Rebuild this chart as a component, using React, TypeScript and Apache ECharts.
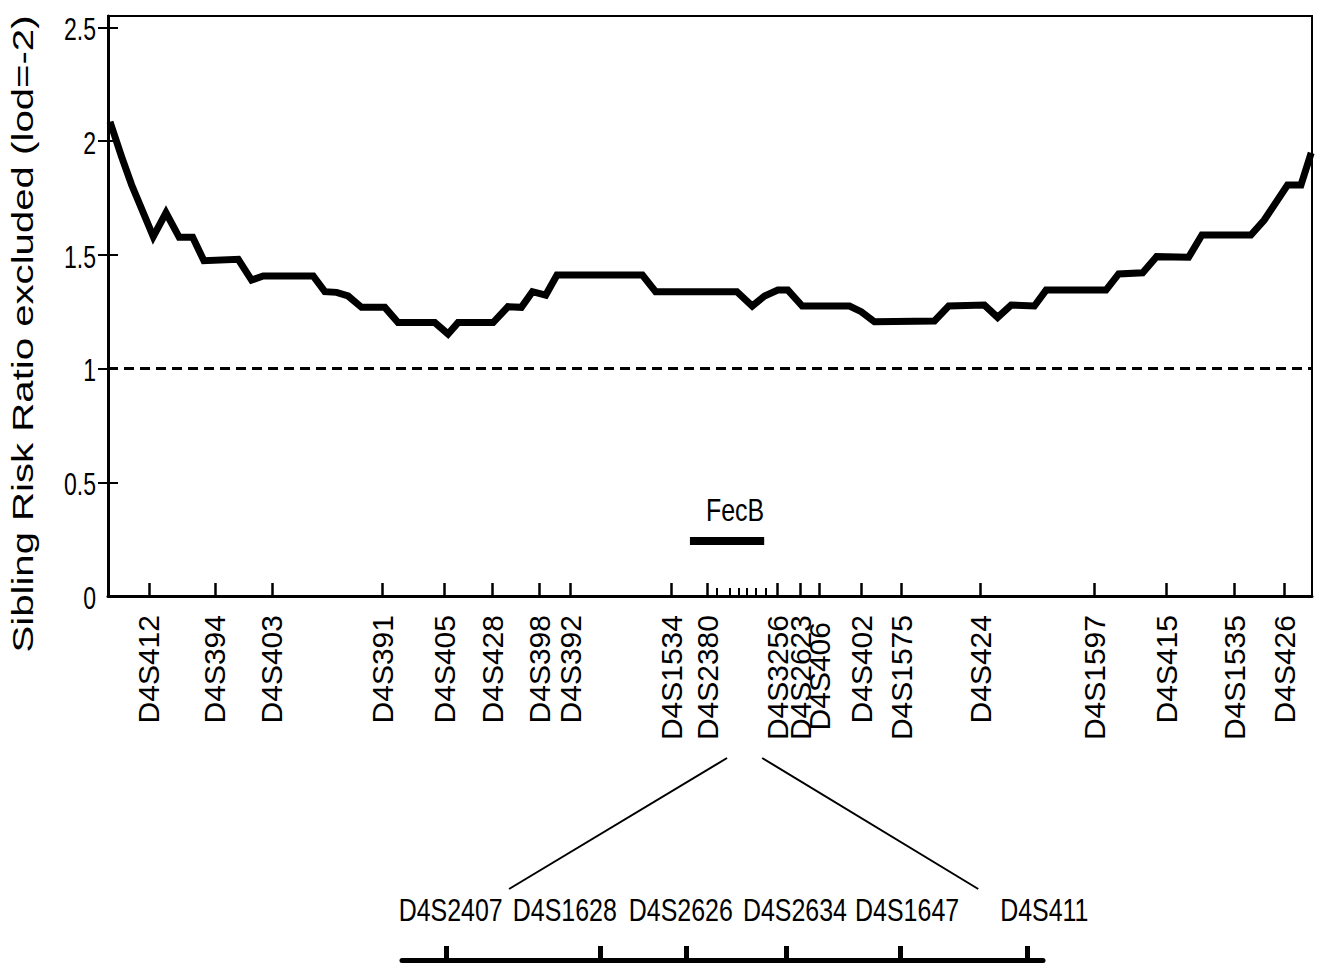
import React, { useEffect, useRef } from "react";
import * as echarts from "echarts";

// Chromosome 4 markers (map position, arbitrary units along the axis)
const markerNames = [
  "D4S412", "D4S394", "D4S403", "D4S391", "D4S405", "D4S428", "D4S398", "D4S392",
  "D4S1534", "D4S2380", "D4S3256", "D4S2623", "D4S406", "D4S402", "D4S1575", "D4S424",
  "D4S1597", "D4S415", "D4S1535", "D4S426",
];
const markerPos = [
  4.08, 10.66, 16.33, 27.38, 33.56, 38.34, 43.02, 46.11,
  56.17, 59.75, 66.72, 69.01, 70.9, 75.08, 79.07, 86.93,
  98.29, 105.46, 112.23, 117.21,
];
// fine-map markers as small ticks on the main axis
const fineTickPosMain = [60.7, 62.0, 62.9, 63.7, 64.6, 65.6];

// Sibling risk ratio excluded curve
const curvePos = [
  0.2, 1.36, 2.36, 4.51, 5.78, 7.1, 8.44, 9.56, 12.98, 14.31, 15.47, 20.45, 21.61, 22.78,
  23.93, 25.27, 27.59, 28.91, 32.57, 33.89, 34.89, 38.38, 39.87, 41.2, 42.3, 43.63, 44.75,
  53.26, 54.58, 62.68, 64.21, 65.44, 66.76, 67.76, 69.19, 73.9, 75.07, 76.39, 82.37, 83.79,
  87.35, 88.67, 90.01, 92.33, 93.5, 99.47, 100.73, 103.12, 104.51, 107.7, 109.03, 113.91,
  115.24, 117.56, 118.9, 119.92,
];
const curveRatio = [
  2.085, 1.931, 1.807, 1.58, 1.685, 1.577, 1.577, 1.474, 1.48, 1.389, 1.407, 1.407, 1.338, 1.335,
  1.319, 1.269, 1.269, 1.202, 1.202, 1.152, 1.202, 1.202, 1.272, 1.269, 1.338, 1.323, 1.411,
  1.411, 1.338, 1.338, 1.275, 1.319, 1.345, 1.345, 1.275, 1.275, 1.25, 1.206, 1.209, 1.275,
  1.279, 1.225, 1.279, 1.275, 1.345, 1.345, 1.416, 1.421, 1.492, 1.489, 1.587, 1.587,
  1.653, 1.807, 1.807, 1.948,
];

const yTicks = [0, 0.5, 1, 1.5, 2, 2.5];
const yTickLabels = ["0", "0.5", "1", "1.5", "2", "2.5"];
const yTicksRight = [0.5, 1, 1.5, 2, 2.5];
const thresholdPos = [0, 120];
const thresholdVal = [1, 1];

const fecbPos = [58.0, 65.4];
const fecbVal = 0.242;
const fecbLabelAt = [62.5, 0.378];

// Fine map (inset)
const fineNames = ["D4S2407", "D4S1628", "D4S2626", "D4S2634", "D4S1647", "D4S411"];
const fineTickPos = [6.9, 30.9, 44.3, 59.9, 77.7, 97.5];
const fineLabelPos = [7.6, 25.4, 43.5, 61.3, 78.8, 100.2];
const fineLabelLevel = 0.625;
const zoomSpanMain = [61.7, 65.2];
const zoomSpanFine = [16.7, 89.9];

const SANS = "'Liberation Sans', Arial, Helvetica, sans-serif";

function nearestName(names: string[], pos: number[], v: number) {
  let best = 0;
  for (let i = 1; i < pos.length; i++) {
    if (Math.abs(pos[i] - v) < Math.abs(pos[best] - v)) best = i;
  }
  return names[best];
}

export default function App() {
  const ref = useRef<HTMLDivElement>(null);

  useEffect(() => {
    if (!ref.current) return;
    const chart = echarts.init(ref.current, null, { renderer: "svg" });
    const option: any = {
      animation: false,
      backgroundColor: "#ffffff",
      grid: [
        {
          left: 108, right: 7, top: 16, bottom: 368,
          show: true, borderColor: "#000", borderWidth: 2,
          outerBoundsMode: "none",
        },
        { left: 402, right: 276, top: 880, bottom: 4, outerBoundsMode: "none" },
      ],
      xAxis: [
        {
          gridIndex: 0, type: "value", min: 0, max: 120, position: "bottom",
          axisLine: { show: true, onZero: false, lineStyle: { color: "#000", width: 3 } },
          axisTick: { show: true, inside: true, length: 13, customValues: markerPos, lineStyle: { color: "#000", width: 2.5 } },
          axisLabel: {
            show: true, customValues: markerPos, rotate: 90, margin: 19,
            showMinLabel: true, showMaxLabel: true,
            fontSize: 30, fontFamily: SANS, color: "#000",
            formatter: (v: number) => {
              const n = nearestName(markerNames, markerPos, v);
              return n === "D4S406" ? "{s|" + n + "}" : n;
            },
            rich: { s: { padding: [0, 7, 0, 0], fontSize: 30, fontFamily: SANS, color: "#000" } },
          },
          splitLine: { show: false },
        },
        {
          gridIndex: 0, type: "value", min: 0, max: 120, position: "bottom",
          axisLine: { show: false, onZero: false },
          axisTick: { show: true, inside: true, length: 8, customValues: fineTickPosMain, lineStyle: { color: "#000", width: 2 } },
          axisLabel: { show: false },
          splitLine: { show: false },
        },
        {
          gridIndex: 1, type: "value", min: 0, max: 100, position: "bottom",
          axisLine: { show: true, onZero: false, lineStyle: { color: "#000", width: 5 } },
          axisTick: { show: true, inside: true, length: 14, customValues: fineTickPos, lineStyle: { color: "#000", width: 5 } },
          axisLabel: { show: false },
          splitLine: { show: false },
        },
      ],
      yAxis: [
        {
          gridIndex: 0, type: "value", min: 0, max: 2.55, position: "left",
          axisLine: { show: true, lineStyle: { color: "#000", width: 3 } },
          axisTick: { show: true, inside: true, length: 10, customValues: yTicks, lineStyle: { color: "#000", width: 2 } },
          axisLabel: { show: false },
          splitLine: { show: false },
        },
        {
          gridIndex: 0, type: "value", min: 0, max: 2.55, position: "right",
          axisLine: { show: true, lineStyle: { color: "#000", width: 2 } },
          axisTick: { show: true, inside: true, length: 10, customValues: yTicksRight, lineStyle: { color: "#000", width: 2 } },
          axisLabel: { show: false },
          splitLine: { show: false },
        },
        { gridIndex: 1, type: "value", min: 0, max: 1, show: false },
      ],
      series: [
        {
          name: "ratio", type: "line", xAxisIndex: 0, yAxisIndex: 0, silent: true,
          data: curvePos.map((x, i) => [x, curveRatio[i]]),
          showSymbol: false, symbol: "none",
          lineStyle: { color: "#000", width: 7, join: "miter" },
        },
        {
          name: "threshold", type: "line", xAxisIndex: 0, yAxisIndex: 0, silent: true,
          data: thresholdPos.map((x, i) => [x, thresholdVal[i]]),
          showSymbol: false, symbol: "none",
          lineStyle: { color: "#000", width: 3, type: [10, 6] },
        },
        {
          name: "FecB", type: "line", xAxisIndex: 0, yAxisIndex: 0, silent: true,
          data: fecbPos.map((x) => [x, fecbVal]),
          showSymbol: false, symbol: "none",
          lineStyle: { color: "#000", width: 8, cap: "butt" },
        },
        {
          // y tick labels (condensed face, as in the original)
          name: "yLabels", type: "custom", xAxisIndex: 0, yAxisIndex: 0, silent: true, clip: false,
          data: yTicks.map((v, i) => [0, v, i]),
          renderItem: (params: any, api: any) => {
            const pt = api.coord([api.value(0), api.value(1)]);
            return {
              type: "text", x: pt[0] - 12, y: pt[1] + 2, scaleX: 0.72,
              style: {
                text: yTickLabels[api.value(2)], fontSize: 32, fontFamily: SANS, fill: "#000",
                align: "right", verticalAlign: "middle",
              },
            };
          },
        },
        {
          name: "FecB label", type: "custom", xAxisIndex: 0, yAxisIndex: 0, silent: true, clip: false,
          data: [fecbLabelAt],
          renderItem: (params: any, api: any) => {
            const pt = api.coord([api.value(0), api.value(1)]);
            return {
              type: "text", x: pt[0], y: pt[1], scaleX: 0.78,
              style: {
                text: "FecB", fontSize: 32, fontFamily: SANS, fill: "#000",
                align: "center", verticalAlign: "middle",
              },
            };
          },
        },
        {
          name: "fineLabels", type: "custom", xAxisIndex: 2, yAxisIndex: 2, silent: true, clip: false,
          data: fineLabelPos.map((p, i) => [p, fineLabelLevel, i]),
          renderItem: (params: any, api: any) => {
            const pt = api.coord([api.value(0), api.value(1)]);
            return {
              type: "text", x: pt[0], y: pt[1], scaleX: 0.78,
              style: {
                text: fineNames[api.value(2)], fontSize: 32, fontFamily: SANS, fill: "#000",
                align: "center", verticalAlign: "middle",
              },
            };
          },
        },
      ],
      graphic: [
        {
          type: "text", id: "ytitle", x: 23, y: 334, rotation: Math.PI / 2, scaleX: 1.385, scaleY: 1,
          style: {
            text: "Sibling Risk Ratio excluded (lod=-2)",
            fontSize: 29, fontFamily: SANS, fill: "#000",
            align: "center", verticalAlign: "middle",
          },
        },
      ],
    };
    chart.setOption(option);

    const px = (axis: number, v: number) => chart.convertToPixel({ xAxisIndex: axis } as any, v) as number;
    const topY = 758;
    const botY = 889;
    chart.setOption({
      graphic: [
        {
          type: "line", id: "zoomL",
          shape: { x1: px(0, zoomSpanMain[0]), y1: topY, x2: px(2, zoomSpanFine[0]), y2: botY },
          style: { stroke: "#000", lineWidth: 2 },
        },
        {
          type: "line", id: "zoomR",
          shape: { x1: px(0, zoomSpanMain[1]), y1: topY, x2: px(2, zoomSpanFine[1]), y2: botY },
          style: { stroke: "#000", lineWidth: 2 },
        },
      ],
    });
    return () => chart.dispose();
  }, []);

  return (
    <div
      ref={ref}
      style={{ position: "fixed", left: 0, top: 0, width: 1319, height: 964, background: "#fff" }}
    />
  );
}
